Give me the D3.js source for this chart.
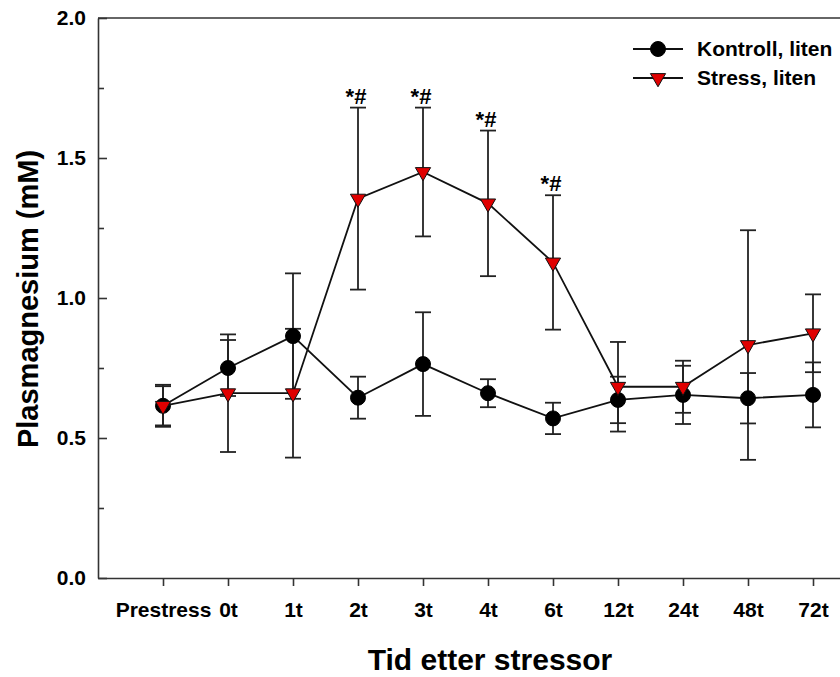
<!DOCTYPE html>
<html>
<head>
<meta charset="utf-8">
<script src="https://cdn.jsdelivr.net/npm/d3@7"></script>
<style>
  body { margin: 0; background: #fff; }
  svg { display: block; font-family: "Liberation Sans", Arial, sans-serif; font-weight: bold; }
</style>
</head>
<body>
<svg width="840" height="677"></svg>
<script>
// data
var categories = ["Prestress", "0t", "1t", "2t", "3t", "4t", "6t", "12t", "24t", "48t", "72t"];
var kontrollMean = [0.615, 0.75, 0.864, 0.644, 0.764, 0.66, 0.57, 0.636, 0.654, 0.642, 0.654];
var kontrollErr  = [0.075, 0.10, 0.224, 0.075, 0.185, 0.05, 0.056, 0.083, 0.104, 0.09, 0.116];
var stressMean   = [0.615, 0.66, 0.66, 1.355, 1.45, 1.338, 1.127, 0.683, 0.683, 0.832, 0.874];
var stressErr    = [0.07, 0.21, 0.23, 0.325, 0.23, 0.26, 0.24, 0.16, 0.093, 0.41, 0.139];
var stressSig    = ["", "", "", "*#", "*#", "*#", "*#", "", "", "", ""];
var yTicks = [0, 0.5, 1.0, 1.5, 2.0];
var yMinorTicks = [0.25, 0.75, 1.25, 1.75];

var svg = d3.select("svg");
var plotLeft = 98, plotTop = 18, plotBottom = 578;

// x: category index, the plot continues past the right edge of the window
var x = d3.scaleLinear().domain([-1, 12]).range([plotLeft, plotLeft + 13 * 65]);
var y = d3.scaleLinear().domain([0, 2]).range([plotBottom, plotTop]);

var axisColor = "#333";

// frame top line
svg.append("line")
    .attr("x1", plotLeft).attr("x2", x(12))
    .attr("y1", plotTop).attr("y2", plotTop)
    .attr("stroke", axisColor).attr("stroke-width", 1.6);

// x axis
var gx = svg.append("g")
    .attr("transform", "translate(0," + plotBottom + ")")
    .call(d3.axisBottom(x)
        .tickValues(d3.range(categories.length))
        .tickFormat(function(i) { return categories[i]; })
        .tickSizeInner(8).tickSizeOuter(0).tickPadding(16));
gx.select(".domain").attr("stroke", axisColor).attr("stroke-width", 1.6);
gx.selectAll(".tick line").attr("stroke", axisColor).attr("stroke-width", 1.6);
gx.selectAll(".tick text")
    .attr("font-size", 21).attr("font-family", null).attr("fill", "#000");

// y axis, ticks point inward
var gy = svg.append("g")
    .attr("transform", "translate(" + plotLeft + ",0)")
    .call(d3.axisLeft(y)
        .tickValues(yTicks)
        .tickFormat(d3.format(".1f"))
        .tickSizeInner(-9).tickSizeOuter(0).tickPadding(12));
gy.select(".domain").attr("stroke", axisColor).attr("stroke-width", 1.6);
gy.selectAll(".tick line").attr("stroke", axisColor).attr("stroke-width", 1.6);
gy.selectAll(".tick text")
    .attr("font-size", 21).attr("font-family", null).attr("fill", "#000");

var gyMinor = svg.append("g")
    .attr("transform", "translate(" + plotLeft + ",0)")
    .call(d3.axisLeft(y).tickValues(yMinorTicks).tickFormat("").tickSizeInner(-6).tickSizeOuter(0));
gyMinor.select(".domain").remove();
gyMinor.selectAll(".tick line").attr("stroke", axisColor).attr("stroke-width", 1.6);

// axis titles
svg.append("text")
    .attr("x", 490).attr("y", 670)
    .attr("text-anchor", "middle")
    .attr("font-size", 30).attr("fill", "#000")
    .text("Tid etter stressor");

svg.append("text")
    .attr("transform", "translate(38,299) rotate(-90)")
    .attr("text-anchor", "middle")
    .attr("font-size", 29).attr("fill", "#000")
    .text("Plasmagnesium (mM)");

// series
var series = [
    {name: "Kontroll, liten", mean: kontrollMean, err: kontrollErr, symbol: "circle"},
    {name: "Stress, liten", mean: stressMean, err: stressErr, symbol: "triangle"}
];

var line = d3.line()
    .x(function(d, i) { return x(i); })
    .y(function(d) { return y(d); });

var tri = d3.symbol().type(d3.symbolTriangle).size(100);

function drawMarker(g, type) {
    if (type == "circle") {
        g.append("circle").attr("r", 7.5).attr("fill", "#000").attr("stroke", "#000");
    } else {
        g.append("path").attr("d", tri).attr("transform", "rotate(180)")
            .attr("fill", "#e00000").attr("stroke", "#111").attr("stroke-width", 1);
    }
}

// error bars first (behind everything)
series.forEach(function(s) {
    var eb = svg.append("g").attr("stroke", "#222").attr("stroke-width", 1.8);
    s.mean.forEach(function(m, i) {
        var hi = y(m + s.err[i]), lo = y(m - s.err[i]), cx = x(i);
        eb.append("line").attr("x1", cx).attr("x2", cx).attr("y1", hi).attr("y2", lo);
        eb.append("line").attr("x1", cx - 8).attr("x2", cx + 8).attr("y1", hi).attr("y2", hi);
        eb.append("line").attr("x1", cx - 8).attr("x2", cx + 8).attr("y1", lo).attr("y2", lo);
    });
});

series.forEach(function(s) {
    svg.append("path")
        .datum(s.mean)
        .attr("d", line)
        .attr("fill", "none")
        .attr("stroke", "#111")
        .attr("stroke-width", 1.8);

    svg.append("g").selectAll("g")
        .data(s.mean)
        .enter().append("g")
        .attr("transform", function(d, i) { return "translate(" + x(i) + "," + y(d) + ")"; })
        .each(function() { drawMarker(d3.select(this), s.symbol); });
});

// significance marks above stress bars
svg.append("g").selectAll("text")
    .data(stressMean)
    .enter().append("text")
    .attr("x", function(d, i) { return x(i) - 2; })
    .attr("y", function(d, i) { return y(d + stressErr[i]) - 4; })
    .attr("text-anchor", "middle")
    .attr("font-size", 22).attr("fill", "#000")
    .text(function(d, i) { return stressSig[i]; });

// legend
var legend = svg.append("g").selectAll("g")
    .data(series)
    .enter().append("g")
    .attr("transform", function(d, i) { return "translate(0," + (49 + i * 29) + ")"; });

legend.append("line")
    .attr("x1", 633).attr("x2", 683)
    .attr("stroke", "#111").attr("stroke-width", 1.8);

legend.append("g")
    .attr("transform", "translate(658,0)")
    .each(function(d) { drawMarker(d3.select(this), d.symbol); });

legend.append("text")
    .attr("x", 697).attr("y", 7)
    .attr("font-size", 21).attr("fill", "#000")
    .text(function(d) { return d.name; });
</script>
</body>
</html>
